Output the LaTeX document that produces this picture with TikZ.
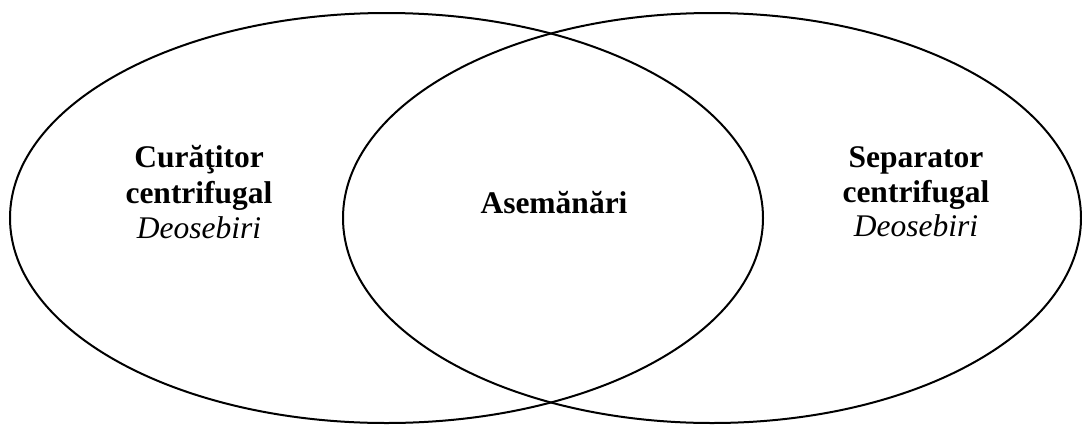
\documentclass[tikz,border=0pt]{standalone}
\usepackage{fontspec}
\setmainfont{Liberation Serif}
\begin{document}
\begin{tikzpicture}[x=1pt,y=-1pt,
  ring/.style={draw=black,line width=2pt},
  lbl/.style={anchor=base,inner sep=0pt,font=\fontsize{31.5}{36}\selectfont\bfseries},
  ilbl/.style={anchor=base,inner sep=0pt,font=\fontsize{31.5}{36}\selectfont\itshape}]
\useasboundingbox (0,0) rectangle (1082,424);
\draw[ring] (386.5,218) ellipse [x radius=376.5, y radius=205];
\draw[ring] (712,218) ellipse [x radius=369, y radius=205];
\node[lbl] (l1) at (199,167) {Curăţitor};
\node[lbl] (l2) at (199,203) {centrifugal};
\node[ilbl] (l3) at (199,238) {Deosebiri};
\node[lbl] (m1) at (554,213) {Asemănări};
\node[lbl] (r1) at (916,167) {Separator};
\node[lbl] (r2) at (916,202) {centrifugal};
\node[ilbl] (r3) at (916,236) {Deosebiri};
\end{tikzpicture}
\end{document}
